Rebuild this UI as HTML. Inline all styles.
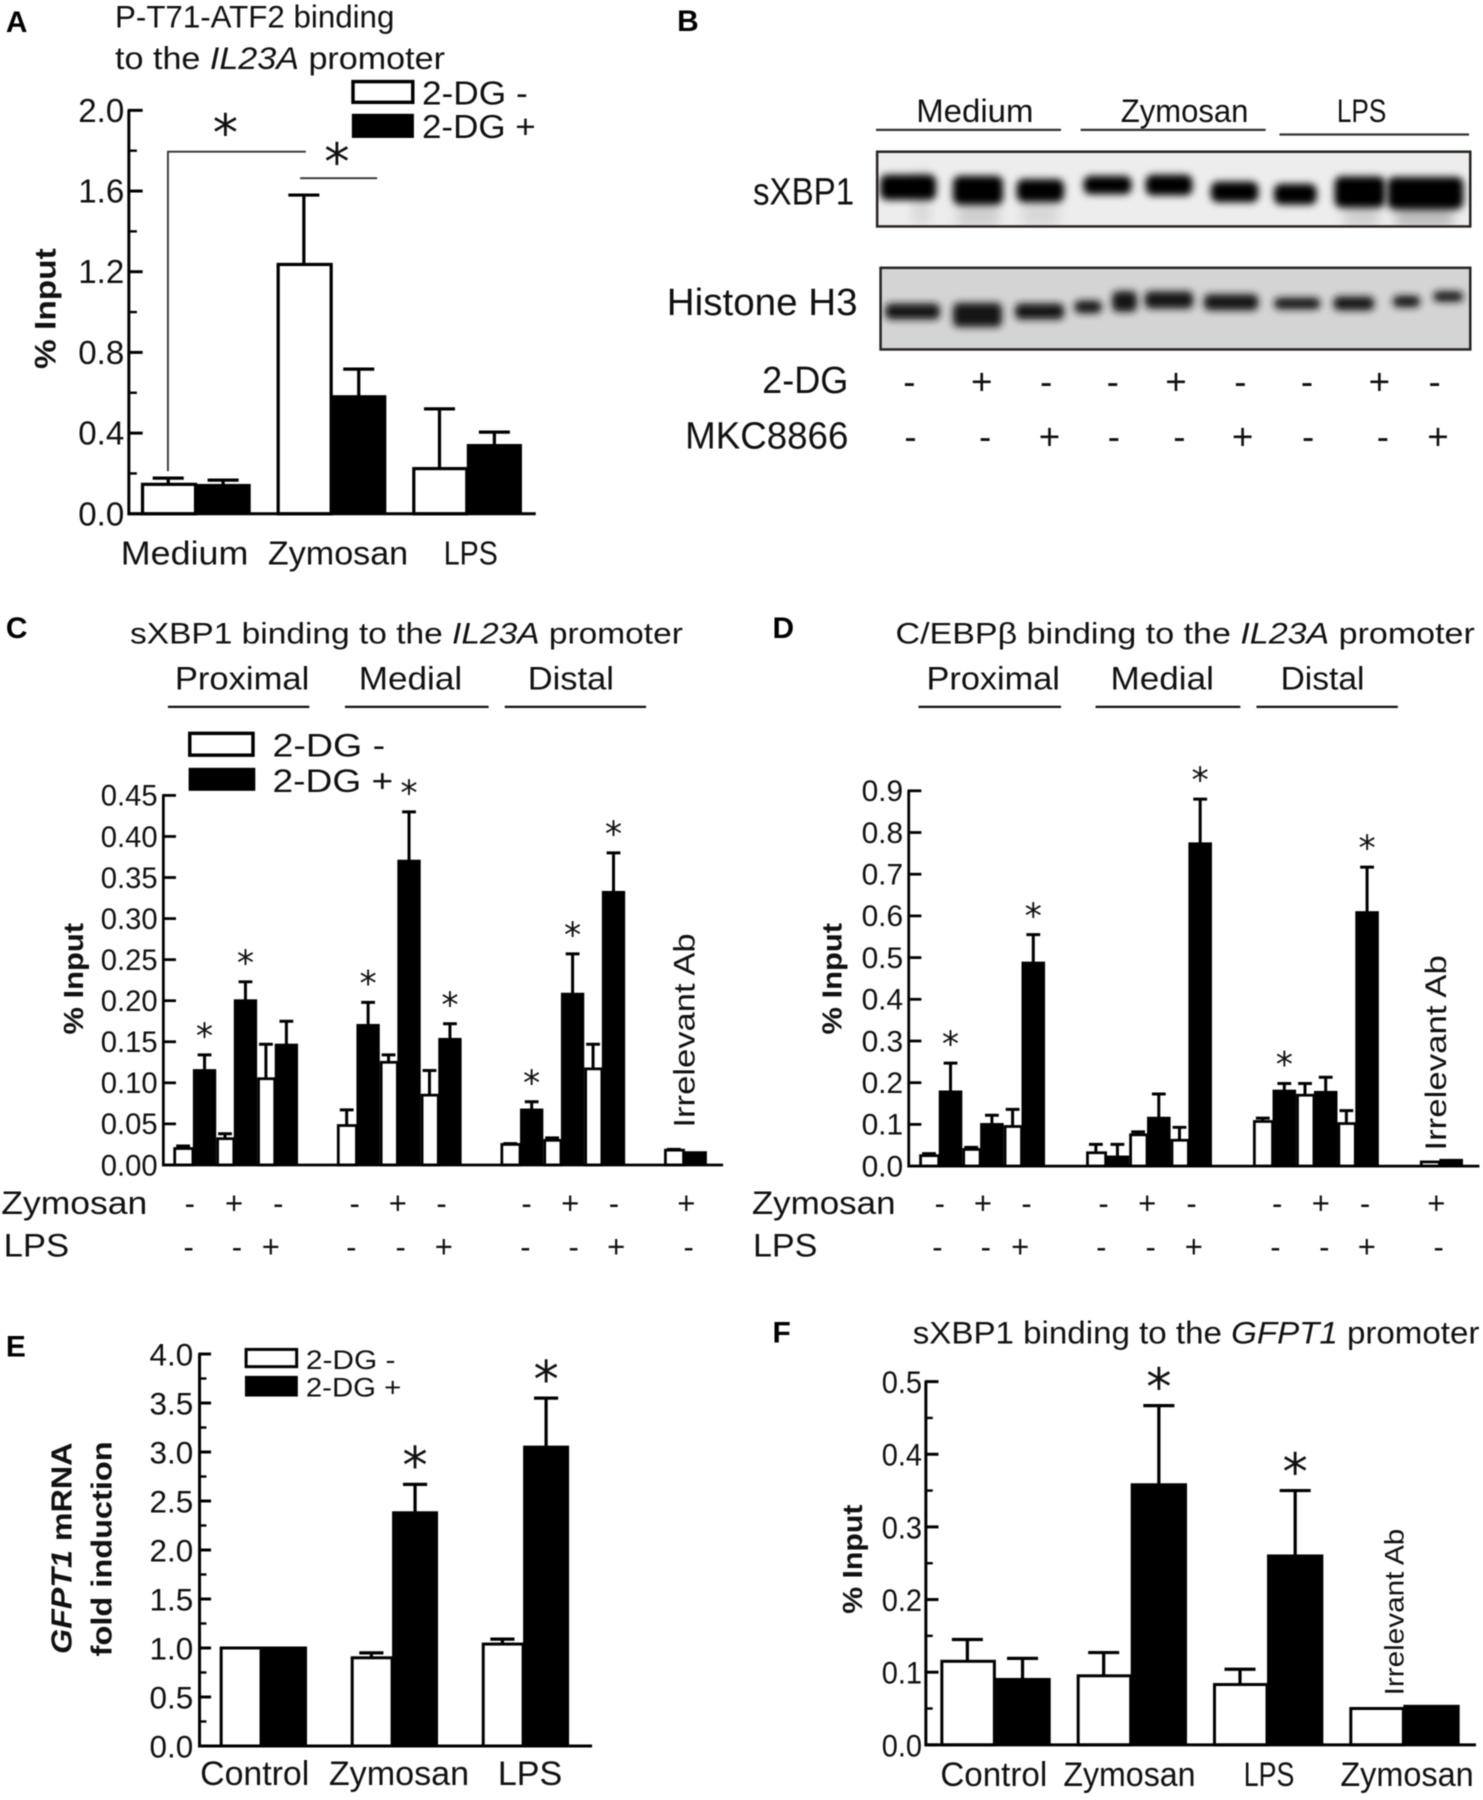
<!DOCTYPE html>
<html lang="en">
<head>
<meta charset="utf-8">
<title>IL23A promoter binding figure</title>
<style>
html,body{margin:0;padding:0;background:#fff;width:1483px;height:1800px;overflow:hidden}
svg{display:block;filter:blur(0.45px)}
text{font-family:"Liberation Sans",sans-serif;fill:#111}
.l{font-size:26px;font-weight:bold;fill:#000}
.t{font-size:27px}
</style>
</head>
<body>
<svg id="fig" xmlns="http://www.w3.org/2000/svg" width="1483" height="1800" viewBox="1 0 1290 1566">
<defs>
<filter id="bl" x="-30%" y="-120%" width="160%" height="340%"><feGaussianBlur stdDeviation="3.2"/></filter>
<filter id="bl2" x="-30%" y="-30%" width="160%" height="160%"><feGaussianBlur stdDeviation="5"/></filter>
<clipPath id="c1"><rect x="764" y="132" width="516" height="64"/></clipPath>
<clipPath id="c2"><rect x="767" y="233" width="513" height="70"/></clipPath>
</defs>

<!-- panel letters -->
<text class="l" x="6" y="28">A</text>
<text class="l" x="590" y="27">B</text>
<text class="l" x="6" y="555">C</text>
<text class="l" x="673" y="555">D</text>
<text class="l" x="6" y="1180">E</text>
<text class="l" x="673" y="1168">F</text>

<!-- panel A static -->
<text class="t" x="101" y="24" textLength="243" lengthAdjust="spacingAndGlyphs">P-T71-ATF2 binding</text>
<text class="t" x="101" y="60" textLength="287" lengthAdjust="spacingAndGlyphs">to the <tspan font-style="italic">IL23A</tspan> promoter</text>
<rect x="308" y="71" width="52" height="18" fill="#fff" stroke="#000" stroke-width="3"/>
<rect x="307" y="99" width="54" height="21" fill="#000"/>
<text x="368" y="91" font-size="29" textLength="92" lengthAdjust="spacingAndGlyphs">2-DG -</text>
<text x="368" y="120" font-size="29" textLength="99" lengthAdjust="spacingAndGlyphs">2-DG +</text>
<path d="M147 410V132H267" fill="none" stroke="#333" stroke-width="1.6"/>
<path d="M262 155H329" fill="none" stroke="#333" stroke-width="1.6"/>
<text transform="translate(49,321) rotate(-90)" font-size="26" font-weight="bold" textLength="105" lengthAdjust="spacingAndGlyphs">% Input</text>
<text x="106" y="491" font-size="29" textLength="111" lengthAdjust="spacingAndGlyphs">Medium</text>
<text x="234" y="491" font-size="29" textLength="122" lengthAdjust="spacingAndGlyphs">Zymosan</text>
<text x="387" y="491" font-size="29" textLength="47" lengthAdjust="spacingAndGlyphs">LPS</text>

<!-- panel B static -->
<g>
<text x="798" y="106" font-size="28" textLength="102" lengthAdjust="spacingAndGlyphs">Medium</text>
<text x="976" y="106" font-size="28" textLength="111" lengthAdjust="spacingAndGlyphs">Zymosan</text>
<text x="1164" y="106" font-size="28" textLength="43" lengthAdjust="spacingAndGlyphs">LPS</text>
<path d="M763 113H924M941 113H1102M1114 117H1279" stroke="#333" stroke-width="2" fill="none"/>
<text x="656" y="178" font-size="33" textLength="88" lengthAdjust="spacingAndGlyphs">sXBP1</text>
<text x="581" y="274" font-size="33" textLength="166" lengthAdjust="spacingAndGlyphs">Histone H3</text>
<text x="664" y="342" font-size="33" textLength="75" lengthAdjust="spacingAndGlyphs">2-DG</text>
<text x="597" y="390" font-size="33" textLength="142" lengthAdjust="spacingAndGlyphs">MKC8866</text>
<rect x="764" y="132" width="516" height="64" fill="#ededed"/>
<rect x="767" y="233" width="513" height="70" fill="#d4d4d4"/>
<g id="bands1" clip-path="url(#c1)"></g>
<g id="bands2" clip-path="url(#c2)"></g>
<rect x="764" y="132" width="516" height="65" fill="none" stroke="#2a2522" stroke-width="2.2"/>
<rect x="767" y="233" width="513" height="71" fill="none" stroke="#2a2522" stroke-width="2.2"/>
</g>

<!-- panel C static -->
<text x="114" y="560" font-size="26" textLength="481" lengthAdjust="spacingAndGlyphs">sXBP1 binding to the <tspan font-style="italic">IL23A</tspan> promoter</text>
<text x="153" y="600" font-size="28" textLength="117" lengthAdjust="spacingAndGlyphs">Proximal</text>
<text x="313" y="600" font-size="28" textLength="90" lengthAdjust="spacingAndGlyphs">Medial</text>
<text x="460" y="600" font-size="28" textLength="75" lengthAdjust="spacingAndGlyphs">Distal</text>
<path d="M147 615H270M301 615H426M440 615H563" stroke="#111" stroke-width="2" fill="none"/>
<rect x="166" y="638" width="55" height="19" fill="#fff" stroke="#000" stroke-width="3"/>
<rect x="165" y="668" width="58" height="20" fill="#000"/>
<text x="238" y="658" font-size="28" textLength="98" lengthAdjust="spacingAndGlyphs">2-DG -</text>
<text x="238" y="689" font-size="28" textLength="105" lengthAdjust="spacingAndGlyphs">2-DG +</text>
<text transform="translate(73,900) rotate(-90)" font-size="24" font-weight="bold" textLength="97" lengthAdjust="spacingAndGlyphs">% Input</text>
<text transform="translate(605,981) rotate(-90)" font-size="26" textLength="169" lengthAdjust="spacingAndGlyphs">Irrelevant Ab</text>
<text x="2" y="1056" font-size="28" textLength="127" lengthAdjust="spacingAndGlyphs">Zymosan</text>
<text x="4" y="1093" font-size="28" textLength="57" lengthAdjust="spacingAndGlyphs">LPS</text>

<!-- panel D static -->
<text x="780" y="560" font-size="26" textLength="504" lengthAdjust="spacingAndGlyphs">C/EBPβ binding to the <tspan font-style="italic">IL23A</tspan> promoter</text>
<text x="807" y="600" font-size="28" textLength="116" lengthAdjust="spacingAndGlyphs">Proximal</text>
<text x="967" y="600" font-size="28" textLength="90" lengthAdjust="spacingAndGlyphs">Medial</text>
<text x="1115" y="600" font-size="28" textLength="73" lengthAdjust="spacingAndGlyphs">Distal</text>
<path d="M800 615H924M954 615H1080M1094 615H1217" stroke="#111" stroke-width="2" fill="none"/>
<text transform="translate(733,900) rotate(-90)" font-size="24" font-weight="bold" textLength="97" lengthAdjust="spacingAndGlyphs">% Input</text>
<text transform="translate(1259,1001) rotate(-90)" font-size="26" textLength="170" lengthAdjust="spacingAndGlyphs">Irrelevant Ab</text>
<text x="655" y="1056" font-size="28" textLength="125" lengthAdjust="spacingAndGlyphs">Zymosan</text>
<text x="656" y="1093" font-size="28" textLength="56" lengthAdjust="spacingAndGlyphs">LPS</text>

<!-- panel E static -->
<text transform="translate(63,1439) rotate(-90)" font-size="25" font-weight="bold" textLength="184" lengthAdjust="spacingAndGlyphs"><tspan font-style="italic">GFPT1</tspan> mRNA</text>
<text transform="translate(98,1441) rotate(-90)" font-size="25" font-weight="bold" textLength="187" lengthAdjust="spacingAndGlyphs">fold induction</text>
<rect x="215" y="1174" width="44" height="15" fill="#fff" stroke="#000" stroke-width="2.6"/>
<rect x="214" y="1197" width="46" height="18" fill="#000"/>
<text x="267" y="1191" font-size="23" textLength="78" lengthAdjust="spacingAndGlyphs">2-DG -</text>
<text x="267" y="1215" font-size="23" textLength="83" lengthAdjust="spacingAndGlyphs">2-DG +</text>
<text x="175" y="1553" font-size="30" textLength="95" lengthAdjust="spacingAndGlyphs">Control</text>
<text x="287" y="1553" font-size="30" textLength="122" lengthAdjust="spacingAndGlyphs">Zymosan</text>
<text x="434" y="1553" font-size="30" textLength="56" lengthAdjust="spacingAndGlyphs">LPS</text>

<!-- panel F static -->
<text x="795" y="1169" font-size="27" textLength="493" lengthAdjust="spacingAndGlyphs">sXBP1 binding to the <tspan font-style="italic">GFPT1</tspan> promoter</text>
<text transform="translate(751,1404) rotate(-90)" font-size="24" font-weight="bold" textLength="95" lengthAdjust="spacingAndGlyphs">% Input</text>
<text transform="translate(1222,1475) rotate(-90)" font-size="23" textLength="145" lengthAdjust="spacingAndGlyphs">Irrelevant Ab</text>
<text x="819" y="1554" font-size="30" textLength="93" lengthAdjust="spacingAndGlyphs">Control</text>
<text x="926" y="1554" font-size="30" textLength="115" lengthAdjust="spacingAndGlyphs">Zymosan</text>
<text x="1083" y="1554" font-size="30" textLength="44" lengthAdjust="spacingAndGlyphs">LPS</text>
<text x="1167" y="1554" font-size="30" textLength="116" lengthAdjust="spacingAndGlyphs">Zymosan</text>

<g id="plots"></g>
</svg>

<script>
// ---- chart data ----
const aTicks = ["0.0","0.4","0.8","1.2","1.6","2.0"];
const aWhite = [0.146,1.236,0.224];
const aWhiteErr = [0.177,1.58,0.52];
const aBlack = [0.14,0.58,0.338];
const aBlackErr = [0.167,0.717,0.405];

const cTicks = ["0.00","0.05","0.10","0.15","0.20","0.25","0.30","0.35","0.40","0.45"];
const cWhite = [0.02,0.032,0.105, 0.048,0.125,0.085, 0.025,0.03,0.117, 0.018];
const cWhiteErr = [0.023,0.038,0.147, 0.067,0.134,0.115, 0.026,0.033,0.147, 0.019];
const cBlack = [0.115,0.2,0.146, 0.17,0.37,0.153, 0.067,0.208,0.332, 0.015];
const cBlackErr = [0.134,0.223,0.175, 0.198,0.43,0.172, 0.077,0.257,0.38, 0.015];
const cStars = [1,1,0, 1,1,1, 1,1,1, 0];

const dTicks = ["0.0","0.1","0.2","0.3","0.4","0.5","0.6","0.7","0.8","0.9"];
const dWhite = [0.025,0.04,0.095, 0.032,0.075,0.062, 0.107,0.17,0.102, 0.01];
const dWhiteErr = [0.03,0.045,0.136, 0.052,0.082,0.093, 0.115,0.198,0.133, 0.01];
const dBlack = [0.178,0.1,0.487, 0.022,0.115,0.773, 0.18,0.177,0.608, 0.014];
const dBlackErr = [0.247,0.122,0.555, 0.052,0.173,0.88, 0.198,0.213,0.717, 0.014];
const dStars = [1,0,1, 0,0,1, 1,0,1, 0];

const eTicks = ["0.0","0.5","1.0","1.5","2.0","2.5","3.0","3.5","4.0"];
const eWhite = [1.0,0.9,1.04];
const eWhiteErr = [1.0,0.95,1.09];
const eBlack = [1.0,2.38,3.05];
const eBlackErr = [1.0,2.67,3.55];
const eStars = [0,1,1];

const fTicks = ["0.0","0.1","0.2","0.3","0.4","0.5"];
const fWhite = [0.115,0.095,0.083,0.05];
const fWhiteErr = [0.145,0.127,0.104,0.05];
const fBlack = [0.09,0.358,0.26,0.053];
const fBlackErr = [0.119,0.467,0.35,0.053];
const fStars = [0,1,1,0];

// ---- helpers ----
const NS = 'http://www.w3.org/2000/svg';
const plots = document.getElementById('plots');
function mk(tag, attrs, parent) {
  const e = document.createElementNS(NS, tag);
  for (const k in attrs) e.setAttribute(k, attrs[k]);
  (parent || plots).appendChild(e);
  return e;
}
function drawAxes(p, g) {
  const top = p.ticks.length - 1;
  const ax = mk('path', {d:'M' + p.axisX + ' ' + p.y(p.max) + 'V' + p.y0 + 'H' + p.right, fill:'none', stroke:'#000', 'stroke-width':p.axisW}, g);
  
  
  p.ticks.forEach(function(lab, i) {
    const v = p.max * i / top;
    const t = mk('line', {x1:p.axisX - 1, x2:p.axisX + p.major, y1:p.y(v), y2:p.y(v), stroke:'#000', 'stroke-width':p.axisW}, g);
    
    
    const txt = mk('text', {x:p.labelEnd, y:p.y(v) + p.labelDy, 'text-anchor':'end', 'font-size':p.labelSize}, g);
    
    
    if (p.labelLen) { txt.setAttribute('textLength', p.labelLen); txt.setAttribute('lengthAdjust', 'spacingAndGlyphs'); }
    txt.textContent = lab;
    if (p.minor && i < top) {
      const vm = p.max * (i + 0.5) / top;
      const m = mk('line', {x1:p.axisX, x2:p.axisX + p.minor, y1:p.y(vm), y2:p.y(vm), stroke:'#000', 'stroke-width':p.axisW * 0.8}, g);
      
      
    }
  });
}
function drawError(p, g, cx, val, err, name) {
  if (err <= val) return;
  const s = mk('path', {d:'M' + cx + ' ' + p.y(val) + 'V' + p.y(err) + 'M' + (cx - p.cap / 2) + ' ' + p.y(err) + 'H' + (cx + p.cap / 2), fill:'none', stroke:'#000', 'stroke-width':p.errW}, g);
  
  
}
function drawBars(p) {
  const g = mk('g', {});
  
  
  p.white.forEach(function(v, i) {
    const b = p.blackLeft(i);
    const ww = p.whiteW(i);
    const sw = p.barStroke;
    drawError(p, g, b - ww / 2, v, p.whiteErr[i], p.id + '-error-bar-white');
    const w = mk('rect', {x:b - ww + sw / 2, y:p.y(v), width:ww - sw / 2, height:Math.max(0, p.y0 - p.y(v)), fill:'#fff', stroke:'#000', 'stroke-width':sw}, g);
    
    
    drawError(p, g, b + p.blackW / 2, p.black[i], p.blackErr[i], p.id + '-error-bar-black');
    const k = mk('rect', {x:b, y:p.y(p.black[i]) - sw / 2, width:p.blackW, height:p.y0 - p.y(p.black[i]) + sw / 2, fill:'#000'}, g);
    
    
    if (p.stars && p.stars[i]) {
      const st = mk('text', {x:b + p.blackW / 2 + (p.starDx || 0), y:p.y(p.blackErr[i]) - p.starGap, 'text-anchor':'middle', 'font-size':p.starSize, style:'font-family:"DejaVu Sans",sans-serif'}, g);
      
      
      st.textContent = '*';
    }
  });
  drawAxes(p, g);
}
function scale(y0, yTop, max) { return function(v) { return y0 - (y0 - yTop) * v / max; }; }

// ---- panels ----
drawBars({id:'panel-a', ticks:aTicks, max:2, y0:447, y:scale(447,96,2), axisX:113, right:467, axisW:2.6, major:12, minor:7,
  labelEnd:109, labelDy:10, labelSize:28.8, white:aWhite, whiteErr:aWhiteErr, black:aBlack, blackErr:aBlackErr,
  blackLeft:function(i){return 171 + i * 118;}, whiteW:function(){return 47.5;}, blackW:48, barStroke:2.8, cap:27, errW:2.8});

drawBars({id:'panel-c', ticks:cTicks, max:0.45, y0:1013.5, y:scale(1013.5,692,0.45), axisX:143, right:630, axisW:2.4, major:11,
  labelEnd:138, labelDy:9, labelSize:25.4, white:cWhite, whiteErr:cWhiteErr, black:cBlack, blackErr:cBlackErr, stars:cStars,
  blackLeft:function(i){return 168.7 + Math.floor(i / 3) * 142.3 + (i % 3) * 35.6;},
  whiteW:function(i){return i % 3 === 0 ? 17 : 15.3;}, blackW:20.3, barStroke:2.4, cap:12, errW:2.6, starGap:6, starSize:30});

drawBars({id:'panel-d', ticks:dTicks, max:0.9, y0:1014.5, y:scale(1014.5,688,0.9), axisX:791.5, right:1288, axisW:2.4, major:11,
  labelEnd:786.6, labelDy:9, labelSize:26, white:dWhite, whiteErr:dWhiteErr, black:dBlack, blackErr:dBlackErr, stars:dStars,
  blackLeft:function(i){return 817.6 + Math.floor(i / 3) * 145.2 + (i % 3) * 36;},
  whiteW:function(i){return i % 3 === 0 ? 17 : 15.5;}, blackW:20.5, barStroke:2.4, cap:12, errW:2.6, starGap:6, starSize:30});

drawBars({id:'panel-e', ticks:eTicks, max:4, y0:1519, y:scale(1519,1178,4), axisX:174.5, right:516, axisW:2.6, major:10, minor:6,
  labelEnd:169, labelDy:10, labelSize:27, labelLen:38, white:eWhite, whiteErr:eWhiteErr, black:eBlack, blackErr:eBlackErr, stars:eStars,
  blackLeft:function(i){return 228 + i * 114;}, whiteW:function(){return 36;}, blackW:40, barStroke:2.6, cap:21, errW:2.8, starGap:1, starSize:44});

drawBars({id:'panel-f', ticks:fTicks, max:0.5, y0:1518, y:scale(1518,1202,0.5), axisX:806.4, right:1285, axisW:2.6, major:11, minor:6,
  labelEnd:803, labelDy:10, labelSize:27, labelLen:35, white:fWhite, whiteErr:fWhiteErr, black:fBlack, blackErr:fBlackErr, stars:fStars,
  blackLeft:function(i){return 866 + i * 118.6;}, whiteW:function(){return 47;}, blackW:49, barStroke:2.6, cap:27, errW:2.8, starGap:1, starSize:44});

// stars in panel A sit above the brackets
[[197,'panel-a-star-medium',131],[294,'panel-a-star-zymosan',156]].forEach(function(s) {
  const st = mk('text', {x:s[0], y:s[2], 'text-anchor':'middle', 'font-size':44, style:'font-family:"DejaVu Sans",sans-serif'});
  
  
  st.textContent = '*';
});

// treatment +/- rows
function signRow(id, y, size, signs, xs) {
  xs.forEach(function(x, i) {
    const t = mk('text', {x:x, y:y, 'text-anchor':'middle', 'font-size':size});
    
    
    t.textContent = signs[i];
  });
}
signRow('blot-2dg-sign', 343, 32, '-+--+--+-', [792,855,911,969,1024,1080,1138,1201,1249]);
signRow('blot-mkc8866-sign', 391, 32, '--+--+--+', [793,858,914,970,1027,1082,1139,1204,1252]);
signRow('panel-c-zymosan-sign', 1056, 27, '-+--+--+-+', [166,204.5,243,309.5,347,385,459,497,535,598]);
signRow('panel-c-lps-sign', 1094, 27, '--+--+--+-', [165,207,236.5,306.5,349.5,387,458,500,537,600]);
signRow('panel-d-zymosan-sign', 1056, 27, '-+--+--+-+', [818.5,856,894,961,999,1037.5,1112,1150,1188.5,1250.5]);
signRow('panel-d-lps-sign', 1094, 27, '--+--+--+-', [816.5,858.5,888.5,959,1002,1039.5,1110.5,1153,1190,1252.5]);

// blot bands
const sxbp1Bands = [[765.6,816.3,163,22],[829,874.5,165.5,25],[884.4,927.6,165.8,20],[942.6,986.3,161,16],[996.6,1039.3,161,18],[1053.4,1096.6,167,18],[1108.3,1147.3,169,18],[1161,1207,167,27],[1207,1275,168,28]];
const histoneBands = [[770,819.6,271,14],[829,873.6,274,21],[883,927.6,271,14],[934.6,960.5,267,11],[967.5,991,262.3,18],[995.7,1040,261,15],[1047.3,1096.6,263,14],[1108.3,1150.6,264,10],[1160,1197.5,264,12],[1211.6,1237.5,262.3,10],[1246.8,1275,258,9]];
const smears = [[795,810,150,195,'#d8d8d8'],[834,870,170,198,'#cfcfcf'],[890,922,170,198,'#d8d8d8'],[1170,1200,170,198,'#cfcfcf'],[1215,1265,172,198,'#bbbbbb']];
const g1 = document.getElementById('bands1');
const g2 = document.getElementById('bands2');
smears.forEach(function(s) {
  const r = mk('rect', {x:s[0], y:s[2], width:s[1] - s[0], height:s[3] - s[2], fill:s[4], filter:'url(#bl2)'}, g1);
  
  
});
sxbp1Bands.forEach(function(b) {
  const r = mk('rect', {x:b[0] + 1, y:b[2] - b[3] / 2, width:b[1] - b[0] - 2, height:b[3], rx:6, fill:'#050505', filter:'url(#bl)'}, g1);
  
  
});
histoneBands.forEach(function(b) {
  const r = mk('rect', {x:b[0] + 1, y:b[2] - b[3] / 2, width:b[1] - b[0] - 2, height:b[3], rx:5, fill:'#151515', filter:'url(#bl)'}, g2);
  
  
});
</script>
</body>
</html>
